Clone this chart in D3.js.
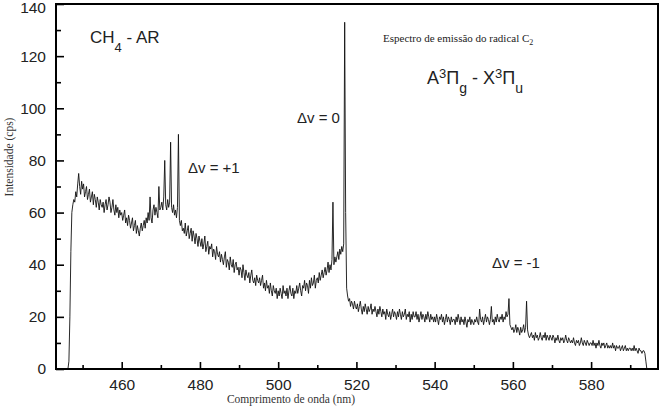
<!DOCTYPE html>
<html><head><meta charset="utf-8">
<script src="https://cdn.jsdelivr.net/npm/d3@7"></script>
<style>body{margin:0;background:#fff} svg{display:block}</style>
</head><body>
<svg id="c" width="663" height="407"></svg>
<script>
// Sampling grid of the spectrum (nm)
const wavelengthStart = 445;
const wavelengthStep = 0.25;
// Intensity (cps), one value per 0.25 nm from 445 nm (20 values per 5 nm row)
const intensity = [
  0,0,0,0, 0,0,3,20, 45,60,63,65, 64,68,66,71, 75,70,67,72,
  69,71,66,68, 70,65,67,69, 64,66,68,63, 67,65,62,66, 64,61,65,63,
  62,64,60,63, 65,61,63,66, 64,60,62,65, 61,59,63,60, 62,58,61,59,
  60,57,59,61, 56,58,55,59, 57,54,56,58, 53,55,57,52, 55,53,51,54,
  56,53,55,57, 54,58,56,60, 57,66,58,56, 61,63,59,62, 60,58,70,61,
  62,64,61,66, 80,63,61,65, 62,64,87,62, 60,63,59,61, 58,62,90,57,
  55,57,53,54, 52,56,51,53, 55,50,52,54, 49,53,51,48, 52,50,47,51,
  49,47,50,46, 48,51,45,47, 49,44,47,46, 48,43,46,45, 42,47,44,43,
  45,41,44,42, 40,43,45,39, 42,41,38,43, 40,39,42,37, 40,41,38,39,
  36,39,38,35, 40,37,34,38, 36,35,37,33, 36,38,34,33, 35,32,36,34,
  33,35,32,34, 36,31,33,30, 34,31,32,29, 33,30,28,32, 30,29,31,27,
  30,28,31,29, 27,32,29,30, 28,31,27,30, 32,29,28,31, 27,30,29,32,
  29,31,33,30, 28,32,31,34, 30,33,32,29, 34,31,35,32, 33,36,31,34,
  35,33,37,34, 36,38,35,37, 39,36,38,41, 37,40,38,42, 64,40,43,41,
  43,45,42,46, 44,47,45,48, 133,60,31,28, 26,27,24,26, 25,23,26,24,
  23,25,22,24, 26,23,21,24, 22,25,23,21, 24,22,23,25, 21,23,22,24,
  22,20,23,21, 24,22,20,23, 21,22,19,23, 21,20,22,19, 21,23,20,22,
  21,19,22,20, 23,21,19,22, 20,21,23,19, 21,20,22,18, 21,19,22,20,
  20,22,19,21, 18,20,22,19, 21,20,18,21, 19,22,20,18, 21,19,20,18,
  20,18,21,19, 17,20,19,21, 18,20,17,19, 21,18,20,19, 17,20,18,19,
  19,17,20,18, 21,19,17,20, 18,19,17,20, 18,16,19,18, 20,17,19,18,
  17,19,18,20, 18,17,23,19, 18,20,17,19, 21,18,20,19, 17,19,24,18,
  19,17,20,18, 21,19,18,20, 19,21,18,20, 19,22,20,21, 27,17,16,15,
  16,14,15,17, 14,16,15,13, 16,14,15,17, 14,16,26,15, 13,12,13,14,
  12,13,11,14, 12,13,11,12, 14,12,11,13, 12,14,11,13, 12,11,13,12,
  11,13,12,10, 12,11,13,11, 10,12,11,12, 10,11,13,11, 10,12,11,10,
  11,10,12,10, 9,11,10,11, 9,10,12,10, 9,11,10,9, 11,10,9,10,
  10,9,11,9, 10,8,10,9, 11,9,8,10, 9,10,8,9, 10,8,9,8,
  9,8,10,8, 9,7,9,8, 8,9,7,8, 9,7,8,9, 7,8,7,8,
  8,7,8,7, 9,7,8,7, 6,8,7,7, 6,7,7,6, 3,0,0,0,
  0
];
const xMajorTicks = [460, 480, 500, 520, 540, 560, 580];
const xMinorTicks = [450, 470, 490, 510, 530, 550, 570, 590];
const yMajorTicks = [0, 20, 40, 60, 80, 100, 120, 140];
const yMinorTicks = [10, 30, 50, 70, 90, 110, 130];
const xDomain = [443.2, 597.1];
const yDomain = [0, 140];

const data = intensity.map((v, i) => ({ nm: wavelengthStart + i * wavelengthStep, v }));

const svg = d3.select("#c");
const W = 663, H = 407;
const m = { left: 56, right: 5, top: 4, bottom: 38 };
const x = d3.scaleLinear().domain(xDomain).range([m.left, W - m.right]);
const y = d3.scaleLinear().domain(yDomain).range([H - m.bottom, m.top]);

const sans = "'Liberation Sans', Arial, sans-serif";
const serif = "'Liberation Serif', 'Times New Roman', serif";

svg.append("defs").append("clipPath").attr("id", "clip")
  .append("rect").attr("x", m.left).attr("y", m.top)
  .attr("width", W - m.left - m.right).attr("height", H - m.top - m.bottom);

// spectrum
svg.append("path").datum(data)
  .attr("clip-path", "url(#clip)")
  .attr("fill", "none").attr("stroke", "#111").attr("stroke-width", 0.9)
  .attr("stroke-linejoin", "round")
  .attr("d", d3.line().x(d => x(d.nm)).y(d => y(d.v)));

// axes
const gx = svg.append("g").attr("transform", `translate(0,${H - m.bottom})`)
  .call(d3.axisBottom(x).tickValues(xMajorTicks).tickSize(-7).tickPadding(10).tickFormat(d3.format("d")));
const gxm = svg.append("g").attr("transform", `translate(0,${H - m.bottom})`)
  .call(d3.axisBottom(x).tickValues(xMinorTicks).tickSize(-4).tickFormat(""));
const gy = svg.append("g").attr("transform", `translate(${m.left},0)`)
  .call(d3.axisLeft(y).tickValues(yMajorTicks).tickSize(-8).tickPadding(10).tickFormat(d3.format("d")));
const gym = svg.append("g").attr("transform", `translate(${m.left},0)`)
  .call(d3.axisLeft(y).tickValues(yMinorTicks).tickSize(-5).tickFormat(""));
[gx, gxm, gy, gym].forEach(g => {
  g.select(".domain").remove();
  g.selectAll("line").attr("stroke", "#000").attr("stroke-width", 1.6);
  g.selectAll("text").attr("fill", "#222").style("font-family", sans).style("font-size", "15.5px");
});
// keep the top label inside the picture
gy.selectAll(".tick").filter(d => d === 140).select("text").attr("y", 4);

// frame
svg.append("rect").attr("x", m.left).attr("y", m.top)
  .attr("width", W - m.left - m.right).attr("height", H - m.top - m.bottom)
  .attr("fill", "none").attr("stroke", "#000").attr("stroke-width", 2);

// axis titles
svg.append("text").attr("transform", "translate(13,157) rotate(-90)")
  .attr("text-anchor", "middle").style("font-family", serif).style("font-size", "11.5px")
  .attr("fill", "#333").text("Intensidade (cps)");
svg.append("text").attr("x", 291).attr("y", 403)
  .attr("text-anchor", "middle").style("font-family", serif).style("font-size", "11.5px")
  .attr("fill", "#333").text("Comprimento de onda (nm)");

// annotations
const t1 = svg.append("text").attr("x", 90).attr("y", 43)
  .style("font-family", sans).style("font-size", "17px").attr("fill", "#222");
t1.append("tspan").text("CH");
t1.append("tspan").attr("dy", 9).style("font-size", "13px").text("4");
t1.append("tspan").attr("dy", -9).text(" - AR");

const t2 = svg.append("text").attr("x", 383).attr("y", 42)
  .style("font-family", serif).style("font-size", "11px").attr("fill", "#222");
t2.append("tspan").text("Espectro de emissão do radical C");
t2.append("tspan").attr("dy", 3).style("font-size", "8px").text("2");

const t3 = svg.append("text").attr("x", 427).attr("y", 84)
  .style("font-family", sans).style("font-size", "18px").attr("fill", "#222");
t3.append("tspan").text("A");
t3.append("tspan").attr("dy", -6).style("font-size", "13px").text("3");
t3.append("tspan").attr("dy", 6).text("Π");
t3.append("tspan").attr("dy", 9).style("font-size", "14px").text("g");
t3.append("tspan").attr("dy", -9).text(" - X");
t3.append("tspan").attr("dy", -6).style("font-size", "13px").text("3");
t3.append("tspan").attr("dy", 6).text("Π");
t3.append("tspan").attr("dy", 9).style("font-size", "14px").text("u");

const ann = [
  { text: "Δv = 0", x: 297, y: 123 },
  { text: "Δv = +1", x: 188, y: 173 },
  { text: "Δv = -1", x: 492, y: 268 }
];
svg.selectAll("text.ann").data(ann).join("text").attr("class", "ann")
  .attr("x", d => d.x).attr("y", d => d.y)
  .style("font-family", sans).style("font-size", "15px").attr("fill", "#222")
  .text(d => d.text);
</script>
</body></html>
